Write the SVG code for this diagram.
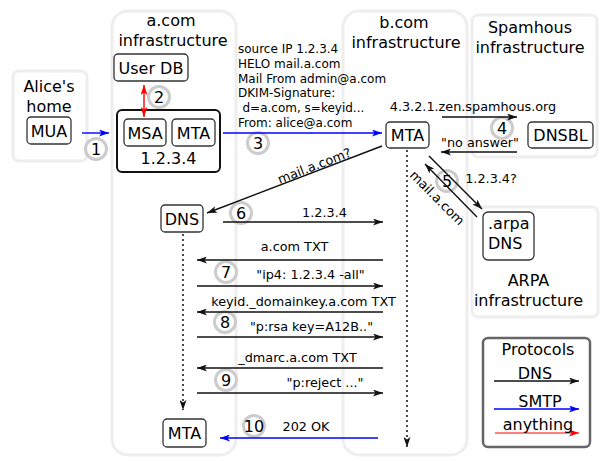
<svg xmlns="http://www.w3.org/2000/svg" width="615" height="461" viewBox="0 0 615 461">
<style>
text{font-family:"DejaVu Sans","Liberation Sans",sans-serif;fill:#000}
.t16{font-size:16px;text-anchor:middle}
.blk{font-size:12px}
.lbl{font-size:12.8px;text-anchor:middle}
.area{fill:#fff;stroke:#eeeeee;stroke-width:3}
.node{fill:#fff;stroke:#333;stroke-width:1.3}
.num{fill:#fff;stroke:#cccccc;stroke-width:3}
.dns{stroke:#111;stroke-width:1.4;fill:none;marker-end:url(#ak)}
.smtp{stroke:#0000ff;stroke-width:1.4;fill:none;marker-end:url(#ab)}
.dot{stroke:#111;stroke-width:1.5;stroke-dasharray:2 3;fill:none;marker-end:url(#ak)}
</style>
<defs>
<marker id="ak" viewBox="0 0 10 7" refX="10" refY="3.5" markerWidth="10" markerHeight="7" markerUnits="userSpaceOnUse" orient="auto-start-reverse"><path d="M0,0 L10,3.5 L0,7 L2.5,3.5 z" fill="#111"/></marker>
<marker id="ab" viewBox="0 0 10 7" refX="10" refY="3.5" markerWidth="10" markerHeight="7" markerUnits="userSpaceOnUse" orient="auto-start-reverse"><path d="M0,0 L10,3.5 L0,7 L2.5,3.5 z" fill="#0000ff"/></marker>
<marker id="ar" viewBox="0 0 10 7" refX="10" refY="3.5" markerWidth="10" markerHeight="7" markerUnits="userSpaceOnUse" orient="auto-start-reverse"><path d="M0,0 L10,3.5 L0,7 L2.5,3.5 z" fill="#ff0000"/></marker>
</defs>
<rect width="615" height="461" fill="#fff"/>

<g id="alice-home">
<rect class="area" x="13" y="71" width="74" height="90" rx="6"/>
<text class="t16" x="49" y="92">Alice's</text>
<text class="t16" x="49" y="112">home</text>
</g>
<g id="acom-infra">
<rect class="area" x="112" y="11" width="124" height="444" rx="16"/>
<text class="t16" x="171" y="26">a.com</text>
<text class="t16" x="173" y="46">infrastructure</text>
</g>
<g id="bcom-infra">
<rect class="area" x="343" y="11" width="124" height="444" rx="16"/>
<text class="t16" x="404" y="28">b.com</text>
<text class="t16" x="406" y="48">infrastructure</text>
</g>
<g id="spamhous-infra">
<rect class="area" x="472" y="15" width="125" height="142" rx="6"/>
<text class="t16" x="530" y="33">Spamhous</text>
<text class="t16" x="530" y="53">infrastructure</text>
</g>
<g id="arpa-infra">
<rect class="area" x="472" y="207" width="126" height="110" rx="6"/>
<text class="t16" x="528.5" y="286">ARPA</text>
<text class="t16" x="528.5" y="305.5">infrastructure</text>
</g>

<g id="mua"><rect class="node" x="27" y="117" width="44" height="27" rx="4"/><text class="t16" x="49" y="136.5">MUA</text></g>
<g id="userdb"><rect class="node" x="114" y="54" width="74" height="27" rx="4"/><text class="t16" x="151" y="73.5">User DB</text></g>
<g id="a-server">
<rect x="117" y="110" width="103" height="62" rx="5" fill="#fff" stroke="#111" stroke-width="2"/>
<text class="t16" x="168.5" y="164">1.2.3.4</text>
</g>
<g id="msa"><rect class="node" x="124" y="119" width="42" height="27" rx="4"/><text class="t16" x="145" y="138.5">MSA</text></g>
<g id="a-mta"><rect class="node" x="172" y="119" width="43" height="27" rx="4"/><text class="t16" x="193.5" y="138.5">MTA</text></g>
<g id="b-mta"><rect class="node" x="386" y="122" width="43" height="26" rx="4"/><text class="t16" x="407.5" y="141">MTA</text></g>
<g id="dnsbl"><rect class="node" x="528" y="122" width="65" height="26" rx="4"/><text class="t16" x="560.5" y="141">DNSBL</text></g>
<g id="arpa-dns"><rect class="node" x="483" y="212" width="51" height="48" rx="5"/><text x="488" y="229" style="font-size:16px">.arpa</text><text x="488" y="249" style="font-size:16px">DNS</text></g>
<g id="a-dns"><rect class="node" x="161" y="205" width="42" height="27" rx="4"/><text class="t16" x="182" y="224.5">DNS</text></g>
<g id="a-mta2"><rect class="node" x="163" y="419" width="43" height="28" rx="4"/><text class="t16" x="184.5" y="439">MTA</text></g>

<g id="steps">
<circle class="num" cx="96" cy="149" r="10.5"/><text class="t16" x="96" y="155">1</text>
<circle class="num" cx="159" cy="97" r="10.5"/><text class="t16" x="159" y="103">2</text>
<circle class="num" cx="258" cy="143" r="10.5"/><text class="t16" x="258" y="149">3</text>
<circle class="num" cx="502" cy="128" r="10.5"/><text class="t16" x="502" y="134">4</text>
<circle class="num" cx="447" cy="181" r="10.5"/><text class="t16" x="447" y="187">5</text>
<circle class="num" cx="241" cy="213" r="10.5"/><text class="t16" x="241" y="219">6</text>
<circle class="num" cx="226" cy="272" r="10.5"/><text class="t16" x="226" y="278">7</text>
<circle class="num" cx="225" cy="322" r="10.5"/><text class="t16" x="225" y="328">8</text>
<circle class="num" cx="226" cy="380" r="10.5"/><text class="t16" x="226" y="386">9</text>
<circle class="num" cx="254" cy="426" r="10.5"/><text class="t16" x="254" y="432">10</text>
</g>

<g id="connectors">
<line class="smtp" x1="82" y1="133" x2="109" y2="133"/>
<line x1="144" y1="85" x2="144" y2="117" stroke="#ff0000" stroke-width="1.4" marker-start="url(#ar)" marker-end="url(#ar)"/>
<line class="smtp" x1="223" y1="133" x2="382" y2="133"/>
<line class="dns" x1="442" y1="117" x2="517" y2="117"/>
<line class="dns" x1="517" y1="152" x2="441" y2="152"/>
<line class="dns" x1="429" y1="156" x2="482" y2="209"/>
<line class="dns" x1="477" y1="217" x2="425" y2="164"/>
<line class="dns" x1="382" y1="146" x2="207" y2="213"/>
<line class="dot" x1="183" y1="234" x2="183" y2="410"/>
<line class="dot" x1="407" y1="150" x2="407" y2="447"/>
<line class="dns" x1="223" y1="222" x2="383" y2="222"/>
<line class="dns" x1="383" y1="260" x2="197" y2="260"/>
<line class="dns" x1="197" y1="286" x2="383" y2="286"/>
<line class="dns" x1="383" y1="312" x2="197" y2="312"/>
<line class="dns" x1="197" y1="337" x2="383" y2="337"/>
<line class="dns" x1="383" y1="368" x2="197" y2="368"/>
<line class="dns" x1="197" y1="393" x2="383" y2="393"/>
<line class="smtp" x1="378" y1="438" x2="220" y2="438"/>
</g>

<g id="labels">
<text class="blk" x="238" y="53">source IP 1.2.3.4</text>
<text class="blk" x="238" y="67.8">HELO mail.a.com</text>
<text class="blk" x="238" y="82.6">Mail From admin@a.com</text>
<text class="blk" x="238" y="97.4">DKIM-Signature:</text>
<text class="blk" x="242.5" y="112.2">d=a.com, s=keyid...</text>
<text class="blk" x="238" y="127">From: alice@a.com</text>
<text class="lbl" x="473" y="111">4.3.2.1.zen.spamhous.org</text>
<text class="lbl" x="480" y="147">"no answer"</text>
<text class="lbl" x="491" y="183">1.2.3.4?</text>
<text class="lbl" x="434" y="201" transform="rotate(45 434 201)">mail.a.com</text>
<text class="lbl" x="316" y="170" transform="rotate(-21 316 170)">mail.a.com?</text>
<text class="lbl" x="324.5" y="216.7">1.2.3.4</text>
<text class="lbl" x="294.5" y="251">a.com TXT</text>
<text class="lbl" x="310.5" y="279">"ip4: 1.2.3.4 -all"</text>
<text class="lbl" x="303.5" y="305.7">keyid._domainkey.a.com TXT</text>
<text class="lbl" x="311.5" y="331">"p:rsa key=A12B.."</text>
<text class="lbl" x="297.5" y="361.7">_dmarc.a.com TXT</text>
<text class="lbl" x="325" y="386.7">"p:reject ..."</text>
<text class="lbl" x="306" y="431">202 OK</text>
</g>

<g id="legend">
<rect x="483" y="338" width="107" height="109" rx="5" fill="#fff" stroke="#666" stroke-width="2.5"/>
<text class="t16" x="538" y="355">Protocols</text>
<text class="t16" x="535" y="379">DNS</text>
<line class="dns" x1="494" y1="381" x2="579" y2="381"/>
<text class="t16" x="540" y="407">SMTP</text>
<line class="smtp" x1="494" y1="409" x2="579" y2="409"/>
<line x1="495" y1="433" x2="579" y2="433" stroke="#ff0000" stroke-opacity="0.5" stroke-width="2" marker-end="url(#ar)"/>
<text class="t16" x="538" y="430">anything</text>
</g>
</svg>
